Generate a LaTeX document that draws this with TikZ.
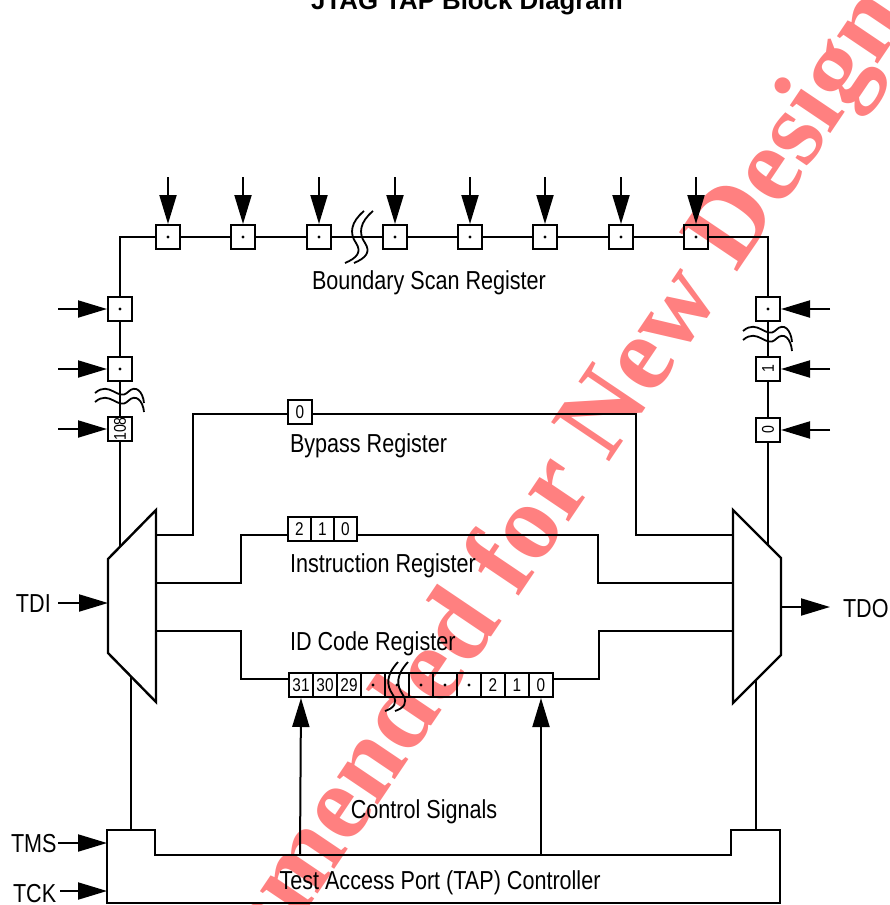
\documentclass[tikz,border=0pt]{standalone}
\usepackage{fontspec}
\usepackage{graphicx}
\setmainfont{Liberation Sans}
\newfontfamily\nar[FakeStretch=0.83]{Liberation Sans}
\newfontfamily\wmfont{Liberation Serif}
\usetikzlibrary{arrows.meta}
\definecolor{wmred}{RGB}{255,128,128}
\begin{document}
\begin{tikzpicture}[x=1pt,y=-1pt, line width=2pt,
  cell/.style={draw, fill=white, minimum width=24pt, minimum height=24pt, inner sep=0pt, line width=2pt},
  icell/.style={cell, minimum width=23pt},
  lbl/.style={font=\nar\fontsize{26}{30}\selectfont, inner sep=0pt, anchor=base west},
  clbl/.style={lbl, anchor=base},
  digit/.style={font=\nar\fontsize{18.5}{20}\selectfont},
  sdigit/.style={font=\nar\fontsize{17}{18}\selectfont},
  sig/.style={-{Triangle[length=29pt,width=17pt]}, line width=2pt},
  brk/.style={line width=1.8pt},
  mux/.style={draw, line width=2.4pt, fill=white}]
\useasboundingbox (0,0) rectangle (890,905);

% title
\node[font=\bfseries\fontsize{25.8}{30}\selectfont, anchor=base, inner sep=0pt] (title) at (467,9) {JTAG TAP Block Diagram};

% boundary scan chain wiring
\coordinate (lmuxin) at (120,546);
\coordinate (rmuxin) at (768,545);
\draw (lmuxin) -- (120,237) -- (768,237) -- (rmuxin);

% bypass path
\draw (156,535) -| (193,414) -- (636,414) |- (733,535);
% instruction path
\draw (156,583) -| (241,535) -- (598,535) |- (733,583);
% id code path
\draw (156,631) -| (241,679) -- (599,679) |- (733,631);

% top cells
\foreach \x [count=\i] in {168,243,319,395,470,545,621,696} {
  \node[cell] (b\i) at (\x,237) {};
  \fill (b\i) circle (1.6);
  \coordinate (bt\i) at (\x,177);
  \draw[sig] (bt\i) -- (b\i.north);
}
% top break
\draw[brk] (364,211) .. controls (351,222) and (349,233) .. (356,243) .. controls (362,252) and (357,258) .. (345,263);
\draw[brk] (373,211) .. controls (360,222) and (358,233) .. (365,243) .. controls (371,252) and (366,258) .. (354,263);

% left cells
\node[cell] (L1) at (120,309) {};
\node[cell] (L2) at (120,369) {};
\node[cell, sdigit] (L3) at (120,429) {\rotatebox{90}{108}};
\fill (L1) circle (1.6);
\fill (L2) circle (1.6);
\foreach \n in {L1,L2,L3} {
  \draw[sig] (58,0 |- \n) -- (\n.west);
}
\draw[brk] (95,393) .. controls (110,380) and (118,402) .. (128,392) .. controls (136,384) and (143,392) .. (144,403);
\draw[brk] (95,402) .. controls (110,389) and (118,411) .. (128,401) .. controls (136,393) and (143,401) .. (144,412);

% right cells
\node[cell] (R1) at (768,309) {};
\node[cell, sdigit] (R2) at (768,369) {\rotatebox{90}{1}};
\node[cell, sdigit] (R3) at (768,430) {\rotatebox{90}{0}};
\fill (R1) circle (1.6);
\foreach \n in {R1,R2,R3} {
  \draw[sig] (830,0 |- \n) -- (\n.east);
}
\draw[brk] (743,331) .. controls (758,318) and (766,340) .. (776,330) .. controls (784,322) and (791,330) .. (792,342);
\draw[brk] (743,340) .. controls (758,327) and (766,349) .. (776,339) .. controls (784,331) and (791,339) .. (792,351);

% bypass register
\node[cell, digit] (bp) at (300,412) {0};
\node[lbl] (bpl) at (289,452) {Bypass Register};

% instruction register
\node[icell, digit] (ir2) at (299.5,529) {2};
\node[icell, digit] (ir1) at (322.5,529) {1};
\node[icell, digit] (ir0) at (345.5,529) {0};
\node[lbl] (irl) at (289,572) {Instruction Register};

% ID code register
\foreach \t [count=\i] in {31,30,29,,,,,,2,1,0} {
  \node[cell, digit] (id\i) at ({301+24*(\i-1)},685) {\t};
}
\foreach \i in {4,5,6,7,8} { \fill (id\i) circle (1.6); }
\draw[brk] (398,662) .. controls (386,675) and (386,685) .. (393,695) .. controls (398,703) and (394,708) .. (385,711);
\draw[brk] (408,662) .. controls (396,675) and (396,685) .. (403,695) .. controls (408,703) and (404,708) .. (395,711);
\node[lbl] (idl) at (289,650) {ID Code Register};

\node[clbl] (bsl) at (429,289) {Boundary Scan Register};

% muxes
\draw[mux] (156,510) -- (108,559) -- (108,653) -- (156,702) -- cycle;
\draw[mux] (733,510) -- (781,558) -- (781,655) -- (733,703) -- cycle;
\coordinate (lmin) at (108,603);
\coordinate (rmout) at (781,607);

% TDI / TDO
\node[lbl] (tdi) at (15,612) {TDI};
\draw[sig] (58,603) -- (lmin);
\node[lbl] (tdo) at (842,617) {TDO};
\draw[sig] (rmout) -- (830,607);

% TAP controller
\draw (107,830) -- (155,830) -- (155,855) -- (731,855) -- (731,830) -- (780,830) -- (780,903) -- (107,903) -- cycle;
\coordinate (tapl) at (107,843);
\coordinate (tapl2) at (107,891);
\draw (131,677) -- (131,830);
\draw (756,680) -- (756,830);
\draw[sig] (300,855) -- (id1.south);
\draw[sig] (541,855) -- (id11.south);
\node[clbl] (cs) at (424,818) {Control Signals};
\node[clbl] (tap) at (440,889) {Test Access Port (TAP) Controller};

\node[lbl] (tms) at (10,852) {TMS};
\draw[sig] (58,843) -- (tapl);
\node[lbl] (tck) at (12,902) {TCK};
\draw[sig] (60,891) -- (tapl2);

% watermark
\begin{scope}[blend mode=multiply]
\node[rotate=56, text=wmred, font=\wmfont\bfseries\fontsize{107}{115}\selectfont, inner sep=0pt] (wm) at (453,648) {Not Recommended for New Designs};
\end{scope}
\end{tikzpicture}
\end{document}
